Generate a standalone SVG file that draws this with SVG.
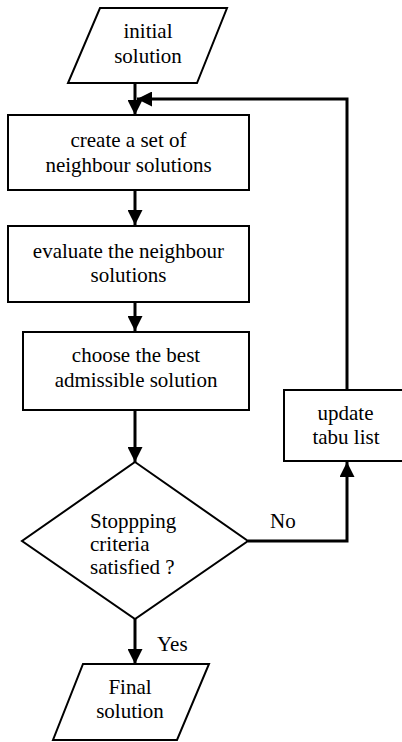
<svg xmlns="http://www.w3.org/2000/svg" width="402" height="742" viewBox="0 0 402 742">
<style>
.shape{fill:#fff;stroke:#000;stroke-width:2}
.conn{fill:none;stroke:#000;stroke-width:3}
.t{font-family:'Liberation Serif','Times New Roman',serif;font-size:21px;fill:#000}
.c{text-anchor:middle}
</style>
<defs>
<marker id="ah" markerUnits="userSpaceOnUse" markerWidth="15" markerHeight="15" refX="15" refY="7.5" orient="auto" viewBox="0 0 15 15">
<path d="M0,0 L15,7.5 L0,15 z" fill="#000"/>
</marker>
</defs>
<rect width="402" height="742" fill="#fff"/>
<g id="connectors">
<path class="conn" d="M135,84 V115" marker-end="url(#ah)"/>
<path class="conn" d="M347,390 V99 H137" marker-end="url(#ah)"/>
<path class="conn" d="M135,190 V225" marker-end="url(#ah)"/>
<path class="conn" d="M135,302 V331" marker-end="url(#ah)"/>
<path class="conn" d="M135,410 V462" marker-end="url(#ah)"/>
<path class="conn" d="M248,541 H347 V462" marker-end="url(#ah)"/>
<path class="conn" d="M135,619 V664" marker-end="url(#ah)"/>
<text class="t" x="157" y="651">Yes</text>
<text class="t" x="270" y="528">No</text>
</g>
<g id="initial">
<polygon class="shape" points="100,8 227,8 197,83 68,83"/>
<text class="t c" x="148" y="38">initial</text>
<text class="t c" x="148" y="63">solution</text>
</g>
<g id="create">
<rect class="shape" x="8" y="115" width="241" height="75"/>
<text class="t c" x="128.5" y="147">create a set of</text>
<text class="t c" x="128.5" y="172">neighbour solutions</text>
</g>
<g id="evaluate">
<rect class="shape" x="8" y="226" width="241" height="76"/>
<text class="t c" x="128.5" y="258">evaluate the neighbour</text>
<text class="t c" x="128.5" y="282">solutions</text>
</g>
<g id="choose">
<rect class="shape" x="23" y="332" width="226" height="78"/>
<text class="t c" x="136" y="362">choose the best</text>
<text class="t c" x="136" y="387">admissible solution</text>
</g>
<g id="update">
<rect class="shape" x="284" y="390" width="122" height="71"/>
<text class="t c" x="345.5" y="420">update</text>
<text class="t c" x="346" y="444">tabu list</text>
</g>
<g id="decision">
<polygon class="shape" points="135,462 248,541 135,619 22,541"/>
<text class="t" x="90" y="528">Stoppping</text>
<text class="t" x="90" y="551">criteria</text>
<text class="t" x="90" y="574">satisfied ?</text>
</g>
<g id="final">
<polygon class="shape" points="83,664 209,664 177,740 53,740"/>
<text class="t c" x="130" y="694">Final</text>
<text class="t c" x="130" y="718">solution</text>
</g>
</svg>
